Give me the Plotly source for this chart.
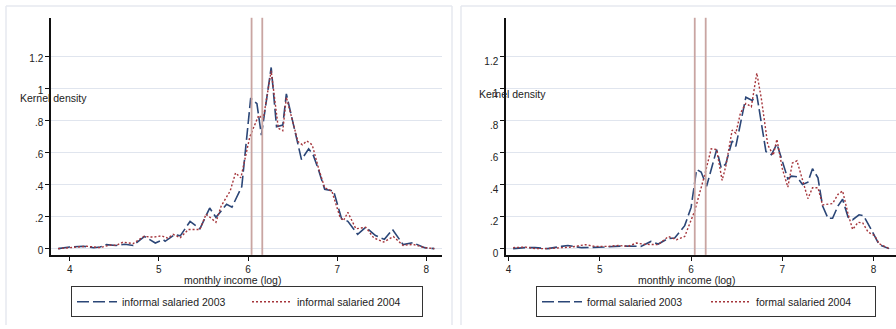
import plotly.graph_objects as go

W, H = 896, 329

# ---------------- data ----------------
inf03_x = [3.87, 4.00, 4.15, 4.27, 4.34, 4.41, 4.52, 4.62, 4.71, 4.84, 4.96, 5.05, 5.07, 5.18, 5.24,
           5.35, 5.46, 5.57, 5.64, 5.76, 5.82, 5.93, 6.03, 6.10, 6.15, 6.21, 6.26, 6.32, 6.39, 6.43,
           6.56, 6.60, 6.68, 6.73, 6.79, 6.86, 6.96, 7.05, 7.12, 7.23, 7.32, 7.43, 7.53, 7.62, 7.74,
           7.85, 7.98, 8.09]
inf03_y = [0.0, 0.010, 0.015, 0.006, 0.010, 0.025, 0.020, 0.027, 0.020, 0.076, 0.035, 0.056, 0.046, 0.089, 0.080,
           0.170, 0.124, 0.254, 0.196, 0.278, 0.260, 0.388, 0.942, 0.907, 0.710, 0.950, 1.134, 0.763, 0.773, 0.969,
           0.650, 0.557, 0.625, 0.588, 0.495, 0.371, 0.361, 0.186, 0.171, 0.089, 0.134, 0.082, 0.058, 0.120, 0.025,
           0.037, 0.006, 0.0]

inf04_x = [3.87, 4.04, 4.19, 4.34, 4.45, 4.52, 4.60, 4.71, 4.83, 4.94, 5.03, 5.10, 5.16, 5.24, 5.33,
           5.46, 5.53, 5.64, 5.70, 5.80, 5.86, 5.92, 6.02, 6.12, 6.17, 6.26, 6.34, 6.39, 6.43, 6.56,
           6.61, 6.66, 6.72, 6.79, 6.86, 6.94, 7.03, 7.07, 7.12, 7.21, 7.32, 7.41, 7.52, 7.63, 7.74,
           7.85, 7.98, 8.09]
inf04_y = [0.0, 0.010, 0.015, 0.006, 0.023, 0.020, 0.041, 0.031, 0.076, 0.072, 0.080, 0.066, 0.089, 0.068, 0.120,
           0.120, 0.216, 0.165, 0.268, 0.361, 0.474, 0.443, 0.700, 0.835, 0.810, 1.113, 0.753, 0.738, 0.948, 0.670,
           0.650, 0.674, 0.650, 0.505, 0.381, 0.361, 0.200, 0.175, 0.227, 0.124, 0.134, 0.068, 0.041, 0.076, 0.020,
           0.027, 0.006, 0.0]

for03_x = [4.05, 4.18, 4.29, 4.43, 4.58, 4.65, 4.80, 4.94, 5.05, 5.24, 5.38, 5.45, 5.56, 5.64, 5.75,
           5.82, 5.93, 6.00, 6.06, 6.11, 6.17, 6.28, 6.33, 6.38, 6.45, 6.49, 6.60, 6.67, 6.72, 6.82,
           6.88, 6.94, 7.06, 7.10, 7.16, 7.22, 7.28, 7.33, 7.39, 7.44, 7.50, 7.55, 7.61, 7.66, 7.72,
           7.77, 7.84, 7.89, 7.97, 8.06, 8.17]
for03_y = [0.0, 0.006, 0.006, 0.0, 0.014, 0.020, 0.006, 0.006, 0.010, 0.016, 0.014, 0.014, 0.045, 0.029, 0.064,
           0.066, 0.144, 0.258, 0.495, 0.480, 0.390, 0.620, 0.505, 0.530, 0.674, 0.640, 0.948, 0.928, 0.963, 0.608,
           0.588, 0.656, 0.437, 0.454, 0.450, 0.402, 0.416, 0.500, 0.443, 0.268, 0.190, 0.190, 0.268, 0.309, 0.196,
           0.181, 0.212, 0.206, 0.124, 0.025, 0.0]

for04_x = [4.05, 4.18, 4.29, 4.43, 4.58, 4.69, 4.84, 4.94, 5.09, 5.20, 5.31, 5.40, 5.49, 5.64, 5.75,
           5.84, 5.93, 6.04, 6.15, 6.22, 6.28, 6.34, 6.38, 6.45, 6.49, 6.54, 6.60, 6.66, 6.72, 6.77,
           6.84, 6.90, 6.94, 7.00, 7.06, 7.11, 7.16, 7.22, 7.28, 7.33, 7.39, 7.44, 7.50, 7.55, 7.61,
           7.66, 7.72, 7.77, 7.83, 7.88, 7.94, 8.01, 8.06, 8.17]
for04_y = [0.006, 0.010, 0.0, 0.0, 0.006, 0.010, 0.025, 0.014, 0.014, 0.020, 0.014, 0.035, 0.027, 0.025, 0.076,
           0.056, 0.076, 0.237, 0.464, 0.625, 0.620, 0.427, 0.515, 0.742, 0.722, 0.847, 0.909, 0.888, 1.099, 0.938,
           0.650, 0.584, 0.684, 0.500, 0.385, 0.536, 0.550, 0.423, 0.313, 0.381, 0.381, 0.274, 0.278, 0.282, 0.340,
           0.361, 0.216, 0.120, 0.165, 0.161, 0.103, 0.082, 0.031, 0.0]

mean_lines = [6.04, 6.16]

y_tickvals = [0, 0.2, 0.4, 0.6, 0.8, 1.0, 1.2]
y_ticktext = ["0", ".2", ".4", ".6", ".8", "1", "1.2"]
x_tickvals = [4, 5, 6, 7, 8]
x_ticktext = ["4", "5", "6", "7", "8"]

names_left = ["informal salaried 2003", "informal salaried 2004"]
names_right = ["formal salaried 2003", "formal salaried 2004"]

# ---------------- style ----------------
BLUE = "#2b4677"
RED = "#a5353b"
VLINE = "#c9a5a2"
GRID = "#e0e5ee"
FRAME = "#e6e9ef"
DASH_LONG = "12px,4px"
DASH_DOT = "2px,2px"
FONT = dict(family="Liberation Sans, Arial, sans-serif", size=10.5, color="#222222")
TICKFONT = dict(family="Liberation Sans, Arial, sans-serif", size=10, color="#222222")


def px(x):
    return x / W


def py(y):
    return 1 - y / H


fig = go.Figure()

fig.add_trace(go.Scatter(x=inf03_x, y=inf03_y, mode="lines", name=names_left[0],
                         line=dict(color=BLUE, width=1.6, dash=DASH_LONG),
                         xaxis="x", yaxis="y", legend="legend"))
fig.add_trace(go.Scatter(x=inf04_x, y=inf04_y, mode="lines", name=names_left[1],
                         line=dict(color=RED, width=1.4, dash=DASH_DOT),
                         xaxis="x", yaxis="y", legend="legend"))
fig.add_trace(go.Scatter(x=for03_x, y=for03_y, mode="lines", name=names_right[0],
                         line=dict(color=BLUE, width=1.6, dash=DASH_LONG),
                         xaxis="x2", yaxis="y2", legend="legend2"))
fig.add_trace(go.Scatter(x=for04_x, y=for04_y, mode="lines", name=names_right[1],
                         line=dict(color=RED, width=1.4, dash=DASH_DOT),
                         xaxis="x2", yaxis="y2", legend="legend2"))

xcommon = dict(tickmode="array", tickvals=x_tickvals, ticktext=x_ticktext, showgrid=False,
               zeroline=False, showline=True, linecolor="#111111", linewidth=1.5,
               ticks="outside", ticklen=4, tickcolor="#111111", tickfont=TICKFONT)
ycommon = dict(tickmode="array", tickvals=y_tickvals, ticktext=y_ticktext, showgrid=True,
               gridcolor=GRID, gridwidth=1.2, zeroline=False, showline=True,
               linecolor="#111111", linewidth=1.5, ticks="outside", ticklen=4,
               tickcolor="#111111", tickfont=TICKFONT, range=[-0.039, 1.445])

fig.update_layout(
    width=W, height=H,
    margin=dict(l=0, r=0, t=0, b=0),
    paper_bgcolor="white", plot_bgcolor="white",
    font=FONT,
    xaxis=dict(domain=[px(51), px(442)], range=[3.79, 8.176], anchor="y", **xcommon),
    yaxis=dict(domain=[py(258), py(18)], anchor="x", ticklabelshift=2, **ycommon),
    xaxis2=dict(domain=[px(506), 1.0], range=[3.972, 8.245], anchor="y2", **xcommon),
    yaxis2=dict(domain=[py(258), py(18)], anchor="x2", ticklabelshift=5, **ycommon),
    legend=dict(orientation="h", x=px(71), y=py(305.5), xanchor="left", yanchor="middle",
                bordercolor="#333333", borderwidth=1, bgcolor="white", font=FONT,
                entrywidth=120, entrywidthmode="pixels", itemwidth=40,
                tracegroupgap=0),
    legend2=dict(orientation="h", x=px(536), y=py(305.5), xanchor="left", yanchor="middle",
                 bordercolor="#333333", borderwidth=1, bgcolor="white", font=FONT,
                 entrywidth=114, entrywidthmode="pixels", itemwidth=40,
                 tracegroupgap=0),
    showlegend=True,
)

shapes = []
# panel frames (kept inside the paper)
frame_segments = [
    (6, 6, 6, 329), (6, 6, 452, 6), (452, 6, 452, 329),
    (461, 6, 461, 329), (461, 6, 896, 6),
]
for x0, y0, x1, y1 in frame_segments:
    shapes.append(dict(type="line", xref="paper", yref="paper", x0=px(x0), y0=py(y0), x1=px(x1), y1=py(y1),
                       line=dict(color=FRAME, width=1.5), layer="below"))
# vertical reference lines
for xr, yr in [("x", "y"), ("x2", "y2")]:
    for v in mean_lines:
        shapes.append(dict(type="line", xref=xr, yref=yr + " domain", x0=v, x1=v, y0=0, y1=1,
                           line=dict(color=VLINE, width=1.8), layer="above"))
fig.update_layout(shapes=shapes)

annotations = [
    dict(text="Kernel density", xref="paper", yref="paper", x=px(53.5), y=py(99),
         showarrow=False, font=FONT, xanchor="center", yanchor="middle"),
    dict(text="Kernel density", xref="paper", yref="paper", x=px(512), y=py(95.5),
         showarrow=False, font=FONT, xanchor="center", yanchor="middle"),
    dict(text="monthly income (log)", xref="paper", yref="paper", x=px(232), y=py(283.5),
         showarrow=False, font=FONT, xanchor="center", yanchor="middle"),
    dict(text="monthly income (log)", xref="paper", yref="paper", x=px(686), y=py(283.5),
         showarrow=False, font=FONT, xanchor="center", yanchor="middle"),
]
fig.update_layout(annotations=annotations)

fig.write_html("out.html", config={"displayModeBar": False},
               post_script="document.body.style.margin='0';document.body.style.padding='0';document.body.style.overflow='hidden';")
